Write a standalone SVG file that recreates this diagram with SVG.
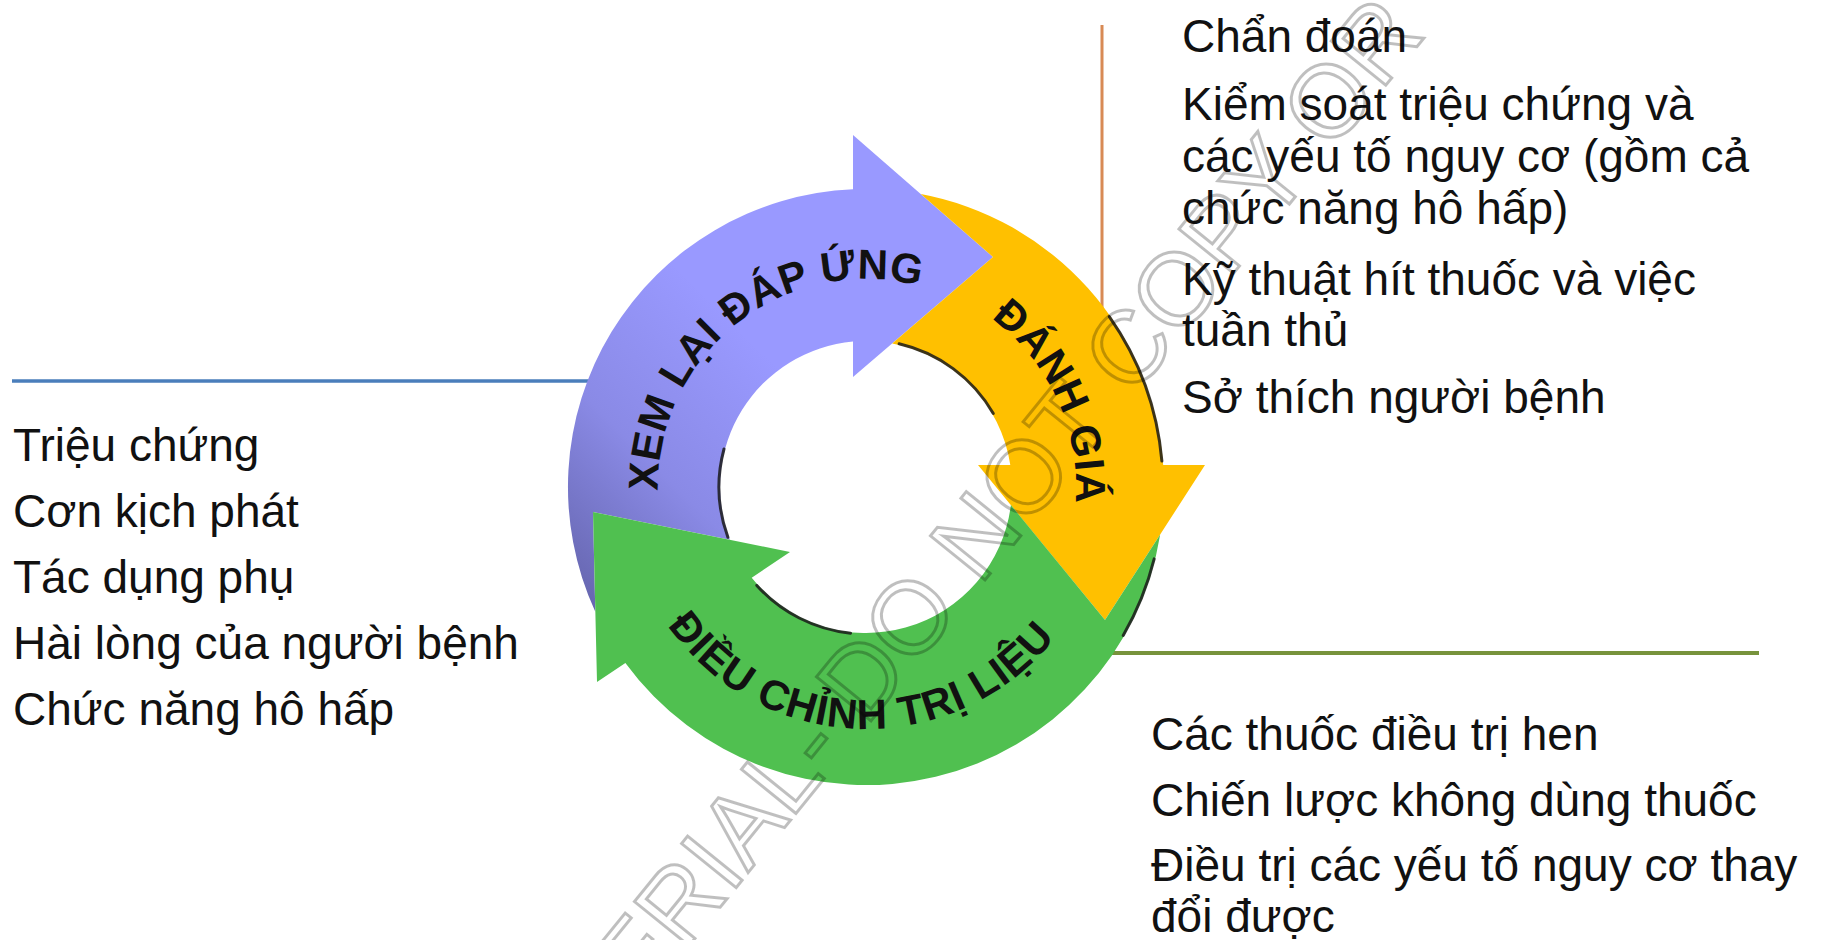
<svg xmlns="http://www.w3.org/2000/svg" width="1823" height="940" viewBox="0 0 1823 940">
<style>
.list{font-family:"Liberation Sans",Arial,sans-serif;font-size:46px;fill:#111;}
.ring{font-family:"Liberation Sans",Arial,sans-serif;font-size:42px;font-weight:bold;fill:#111;}
.edge{fill:none;stroke:#1a1a1a;stroke-width:3;stroke-linecap:round;opacity:.85;}
.wm{font-family:"Liberation Sans",Arial,sans-serif;font-size:102px;fill:none;stroke:#000;stroke-opacity:.25;stroke-width:3;}
</style>
<defs>
<linearGradient id="gPurple" gradientUnits="userSpaceOnUse" x1="570" y1="600" x2="790" y2="380">
<stop offset="0" stop-color="#6464ac"/>
<stop offset="0.5" stop-color="#8a8ae6"/>
<stop offset="1" stop-color="#9999ff"/>
</linearGradient>
<path id="tpPurple" d="M 660 515.9 A 208 208 0 0 1 943.9 294.1"/>
<path id="tpOrange" d="M 956.1 297.3 A 210 210 0 0 1 1068.5 542.8"/>
<path id="tpGreen" d="M 636.1 562.4 A 242 242 0 0 0 1090.6 577.1"/>
</defs>
<rect width="1823" height="940" fill="#fff"/>

<g id="connectors" fill="none">
<line x1="12" y1="381" x2="590" y2="381" stroke="#4a7ebb" stroke-width="3.5"/>
<line x1="1102" y1="25" x2="1102" y2="320" stroke="#d88a55" stroke-width="3"/>
<line x1="1100" y1="653" x2="1759" y2="653" stroke="#77933c" stroke-width="4"/>
</g>

<g id="node-review">
<path d="M 595.3 611.7 A 298 298 0 0 1 853 189.3 L 853 135 L 993 257 L 853 377 L 853 341.6 A 146 146 0 0 0 729.9 539.8 L 593 512 Z" fill="url(#gPurple)"/>
<path class="edge" d="M 727.9 537.3 A 147 147 0 0 1 724 449"/>
<text class="ring"><textPath href="#tpPurple" startOffset="50%" text-anchor="middle" textLength="385" lengthAdjust="spacing">XEM LẠI ĐÁP ỨNG</textPath></text>
</g>

<g id="node-assess">
<path d="M 920.8 194.1 A 298 298 0 0 1 1163.2 465 L 1205 465 L 1105 620 L 978 465 L 1010.3 465 A 146 146 0 0 0 892.2 343.4 L 993 257 Z" fill="#ffc000"/>
<path class="edge" d="M 899.1 343.8 A 147 147 0 0 1 993.3 413.5"/>
<path class="edge" d="M 1109.3 316.6 A 297 297 0 0 1 1161.9 461.1"/>
<text class="ring"><textPath href="#tpOrange" startOffset="50%" text-anchor="middle" textLength="212" lengthAdjust="spacing">ĐÁNH GIÁ</textPath></text>
</g>

<g id="node-adjust">
<path d="M 1160.2 534.4 A 298 298 0 0 1 625.4 662.9 L 597 682 L 593 512 L 790 552 L 751.7 577.8 A 146 146 0 0 0 1010.9 505.1 L 1105 620 Z" fill="#50c050"/>
<path class="edge" d="M 756.8 585.4 A 147 147 0 0 0 850.6 633.2"/>
<path class="edge" d="M 1154.2 558.9 A 297 297 0 0 1 1123.2 635.5"/>
<text class="ring"><textPath href="#tpGreen" startOffset="50%" text-anchor="middle" textLength="450" lengthAdjust="spacing">ĐIỀU CHỈNH TRỊ LIỆU</textPath></text>
</g>

<g id="list-review">
<text class="list" x="13" y="461">Triệu chứng</text>
<text class="list" x="13" y="527">Cơn kịch phát</text>
<text class="list" x="13" y="593">Tác dụng phụ</text>
<text class="list" x="13" y="659">Hài lòng của người bệnh</text>
<text class="list" x="13" y="725">Chức năng hô hấp</text>
</g>

<g id="list-assess">
<text class="list" x="1182" y="52">Chẩn đoán</text>
<text class="list" x="1182" y="120">Kiểm soát triệu chứng và</text>
<text class="list" x="1182" y="172">các yếu tố nguy cơ (gồm cả</text>
<text class="list" x="1182" y="224">chức năng hô hấp)</text>
<text class="list" x="1182" y="295">Kỹ thuật hít thuốc và việc</text>
<text class="list" x="1182" y="346">tuần thủ</text>
<text class="list" x="1182" y="413">Sở thích người bệnh</text>
</g>

<g id="list-adjust">
<text class="list" x="1151" y="750">Các thuốc điều trị hen</text>
<text class="list" x="1151" y="816">Chiến lược không dùng thuốc</text>
<text class="list" x="1151" y="881">Điều trị các yếu tố nguy cơ thay</text>
<text class="list" x="1151" y="932">đổi được</text>
</g>

<g id="watermark">
<text class="wm" transform="translate(641,1005) rotate(-51)">ERIAL- DO NOT COPY OR</text>
</g>
</svg>
